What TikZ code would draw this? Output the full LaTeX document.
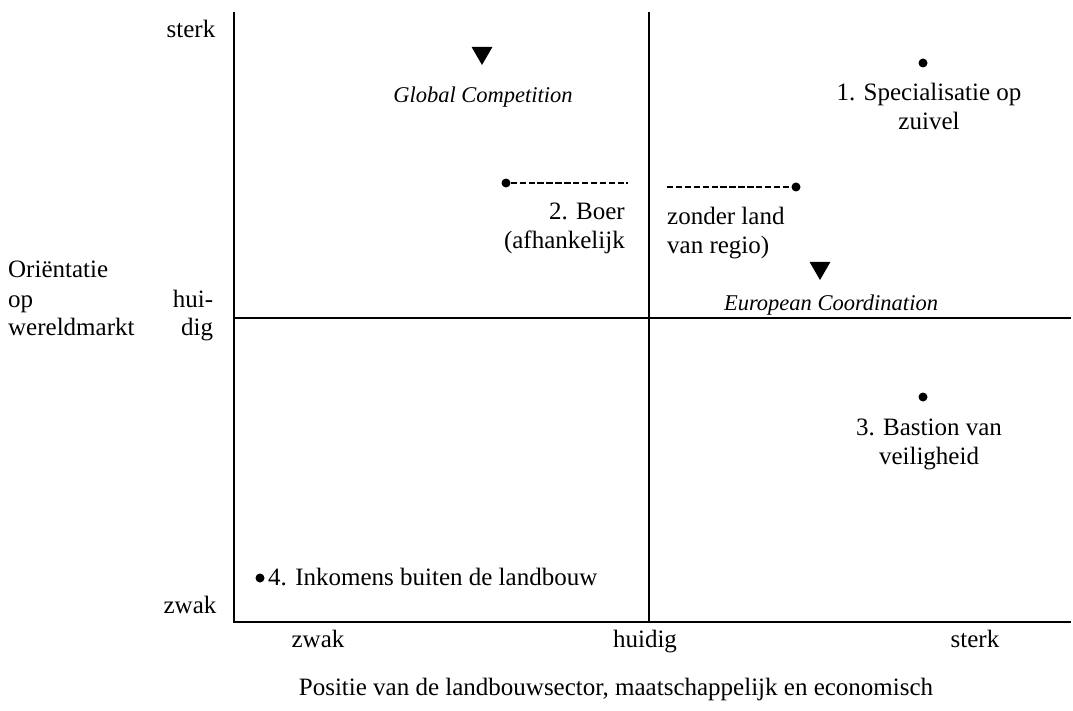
\documentclass[tikz,border=0pt]{standalone}
\usepackage{fontspec}
\setmainfont{Liberation Serif}
\usetikzlibrary{
  shapes.geometric,
}

\begin{document}
\begin{tikzpicture}[x=1pt, y=-1pt,
  every node/.style={inner sep=0pt, font=\fontsize{25}{29}\selectfont},
  axis/.style={line width=2pt},
  dot/.style={circle, fill, minimum size=9pt},
  tri/.style={regular polygon, regular polygon sides=3, shape border rotate=180, fill, minimum size=24pt},
  trend/.style={font=\fontsize{22.5}{27}\selectfont\itshape},
  dashline/.style={line width=1.3pt, dash pattern=on 6.4pt off 2.5pt},
]
\useasboundingbox (0,0) rectangle (1073,711);
\draw[axis] (234,12) -- (234,622) -- (1071,622);
\draw[axis] (649,12) -- (649,622);
\draw[axis] (234,318) -- (1071,318);
\node[anchor=base] (ysterk) at (191,38) {sterk};
\node[anchor=base] (yzwak) at (190,613) {zwak};
\node[anchor=base west, text width=205pt, align=left] (ylabel) at (8,278)
  {Oriëntatie\\op\hfill hui-\\wereldmarkt\hfill dig};
\node[anchor=base] (xzwak) at (318,647) {zwak};
\node[anchor=base] (xhuidig) at (645,647) {huidig};
\node[anchor=base] (xsterk) at (975,647) {sterk};
\node[anchor=base] (xlabel) at (616,695) {Positie van de landbouwsector, maatschappelijk en economisch};
\node[tri] (gc) at (482,53) {};
\node[trend, anchor=base] (gctext) at (483,103) {Global Competition};
\node[tri] (ec) at (820,268) {};
\node[trend, anchor=base] (ectext) at (831,310) {European Coordination};
\node[dot] (s1) at (923,63) {};
\node[anchor=base, align=center] (s1text) at (929,130) {1. Specialisatie op\\zuivel};
\node[dot] (s2a) at (506,183) {};
\coordinate (s2aend) at (628,183);
\draw[dashline] (s2a) -- (s2aend);
\node[anchor=base east, align=right] (s2atext) at (625,249) {2. Boer\\(afhankelijk};
\node[dot] (s2b) at (796,187) {};
\coordinate (s2bend) at (667,187);
\draw[dashline] (s2bend) -- (s2b);
\node[anchor=base west, align=left] (s2btext) at (667,254) {zonder land\\van regio)};
\node[dot] (s3) at (923,397) {};
\node[anchor=base, align=center] (s3text) at (929,464) {3. Bastion van\\veiligheid};
\node[dot] (s4) at (260,578) {};
\node[anchor=base west] (s4text) at (268,585) {4. Inkomens buiten de landbouw};
\end{tikzpicture}
\end{document}
